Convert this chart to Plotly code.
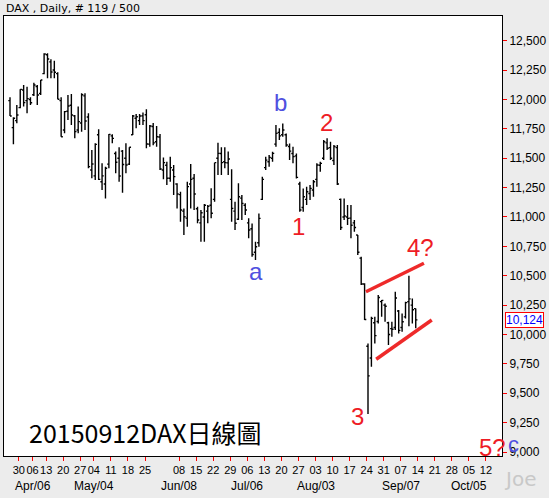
import plotly.graph_objects as go

# DAX daily bars, 25 Mar 2015 .. 11 Sep 2015 (trading-day index 0..119)
opens = [11990, 11760, 11820, 11930, 12080, 11990, 12000, 12040, 12110, 12050,
         12220, 12380, 12320, 12250, 12220, 11990, 11740, 11900, 11950, 11860,
         11740, 11800, 12030, 11850, 11400, 11350, 11700, 11300, 11280, 11450,
         11690, 11540, 11500, 11560, 11500, 11450, 11700, 11840, 11820, 11860,
         11870, 11620, 11770, 11640, 11680, 11400, 11440, 11330, 11400, 11280,
         11190, 11050, 10990, 11280, 11330, 11070, 10950, 11000, 11050, 11100,
         11150, 11500, 11540, 11470, 11460, 11150, 11050, 10980, 11160, 11100,
         10950, 10900, 10700, 10780, 11150, 11420, 11470, 11500, 11620, 11720,
         11700, 11700, 11600, 11540, 11520, 11280, 11080, 11150, 11200, 11230,
         11320, 11440, 11500, 11630, 11590, 11480, 11590, 11150, 11000, 11000,
         10990, 10950, 10846, 10650, 10430, 9900, 9800, 10100, 10110, 10280,
         10250, 10100, 10050, 10060, 10200, 10060, 10150, 10280, 10250, 10220]
highs = [12018, 11848, 11953, 12086, 12123, 12109, 12018, 12143, 12123, 12166,
         12393, 12393, 12341, 12330, 12231, 12018, 11902, 12038, 12046, 11868,
         11939, 12052, 12052, 11882, 11570, 11627, 11746, 11456, 11428, 11706,
         11703, 11556, 11593, 11570, 11627, 11593, 11868, 11876, 11876, 11888,
         11916, 11783, 11800, 11774, 11706, 11507, 11470, 11513, 11442, 11286,
         11215, 11073, 11300, 11451, 11366, 11087, 11059, 11110, 11102, 11244,
         11462, 11632, 11593, 11593, 11556, 11405, 11130, 11286, 11186, 11116,
         10988, 10945, 10789, 11030, 11342, 11513, 11527, 11555, 11782, 11754,
         11796, 11711, 11626, 11598, 11541, 11300, 11243, 11257, 11272, 11314,
         11456, 11470, 11655, 11669, 11640, 11612, 11612, 11158, 11158, 11101,
         11101, 10974, 10846, 10662, 10435, 9924, 10151, 10151, 10335, 10293,
         10264, 10109, 10109, 10364, 10208, 10179, 10279, 10500, 10307, 10222]
lows = [11859, 11618, 11797, 11924, 11939, 11882, 11953, 12029, 11953, 12038,
        12214, 12180, 12180, 12180, 12001, 11683, 11712, 11825, 11783, 11669,
        11712, 11726, 11740, 11414, 11329, 11315, 11315, 11230, 11158, 11414,
        11627, 11371, 11300, 11207, 11371, 11442, 11698, 11754, 11783, 11783,
        11584, 11598, 11610, 11598, 11400, 11320, 11272, 11300, 11187, 11073,
        10960, 10846, 10917, 11073, 11059, 10946, 10790, 10790, 10946, 10988,
        11130, 11357, 11357, 11414, 11357, 10960, 10889, 10974, 10974, 11016,
        10818, 10662, 10633, 10747, 11144, 11399, 11428, 11470, 11598, 11655,
        11683, 11598, 11484, 11456, 11328, 11045, 11045, 11101, 11144, 11172,
        11257, 11385, 11484, 11569, 11484, 11442, 11272, 10889, 10974, 10931,
        10818, 10874, 10676, 10421, 10123, 9323, 9726, 9924, 10094, 10151,
        10109, 9910, 9981, 10038, 10009, 10023, 10137, 10070, 10094, 10052]
closes = [11859, 11840, 11868, 12086, 11973, 12007, 11972, 12123, 12038, 12166,
          12387, 12344, 12234, 12231, 12001, 11683, 11896, 11944, 11868, 11726,
          11811, 12040, 11817, 11428, 11451, 11618, 11320, 11350, 11414, 11703,
          11669, 11465, 11348, 11447, 11442, 11593, 11859, 11853, 11859, 11820,
          11621, 11774, 11630, 11683, 11408, 11462, 11329, 11420, 11343, 11195,
          11059, 11002, 11258, 11320, 11195, 10974, 11036, 11100, 11090, 11031,
          11462, 11541, 11462, 11462, 11493, 11073, 10946, 11172, 11116, 11059,
          10889, 10680, 10747, 10988, 11320, 11484, 11507, 11541, 11711, 11690,
          11740, 11612, 11560, 11513, 11337, 11059, 11172, 11215, 11243, 11300,
          11442, 11456, 11640, 11585, 11500, 11600, 11280, 10910, 11008, 10988,
          10930, 10910, 10700, 10430, 10128, 9648, 10137, 9990, 10315, 10290,
          10240, 10000, 10045, 10310, 10035, 10108, 10271, 10303, 10210, 10124]

# weekly ticks: label and trading-day index of the week's first session
week_labels = ["30", "06", "13", "20", "27", "04", "11", "18", "25", "08", "15", "22", "29", "06",
               "13", "20", "27", "03", "10", "17", "24", "31", "07", "14", "21", "28", "05", "12"]
week_index = [3, 7, 11, 16, 21, 25, 30, 35, 40, 50, 55, 60, 65, 70,
              75, 80, 85, 90, 95, 100, 105, 110, 115, 120, 125, 130, 135, 140]
month_labels = ["Apr/06", "May/04", "Jun/08", "Jul/06", "Aug/03", "Sep/07", "Oct/05"]
month_index = [7, 25, 50, 70, 90, 115, 135]

y_ticks = list(range(9000, 12501, 250))
last_close = 10124

# wave labels (text, bar index, price, colour)
waves = [("b", 79.2, 11978, "#5050e0"), ("a", 72.2, 10532, "#5050e0"),
         ("1", 84.5, 10923, "#ee1c25"), ("2", 92.7, 11800, "#ee1c25"),
         ("3", 101.8, 9306, "#ee1c25"), ("4?", 120.3, 10736, "#ee1c25"),
         ("5?", 141.4, 9040, "#ee1c25")]
# triangle trend lines (bar index, price)
upper_line = [(104.4, 10364), (121.4, 10606)]
lower_line = [(107.4, 9789), (123.7, 10123)]

fig = go.Figure()
fig.add_trace(go.Ohlc(
    x=list(range(len(closes))), open=opens, high=highs, low=lows, close=closes,
    increasing=dict(line=dict(color="black", width=1.4)),
    decreasing=dict(line=dict(color="black", width=1.4)),
    tickwidth=0.5, showlegend=False, hoverinfo="skip"))

for pts in (upper_line, lower_line):
    fig.add_trace(go.Scatter(x=[p[0] for p in pts], y=[p[1] for p in pts], mode="lines",
                             line=dict(color="#ee2a2a", width=3.5), showlegend=False,
                             hoverinfo="skip"))

annotations = []
for txt, xi, yv, col in waves:
    annotations.append(dict(x=xi, y=yv, xref="x", yref="y", text=txt, showarrow=False,
                            font=dict(family="Liberation Sans", size=24, color=col)))
annotations.append(dict(x=1.038, y=0.026, xref="paper", yref="paper", text="c",
                        showarrow=False, yanchor="middle",
                        font=dict(family="Liberation Sans", size=22, color="#5050e0")))
for lab, idx in zip(month_labels, month_index):
    annotations.append(dict(x=idx - 0.4, y=-0.068, xref="x", yref="paper", text=lab,
                            showarrow=False, yanchor="middle",
                            font=dict(family="Liberation Sans", size=12, color="black")))
annotations.append(dict(x=0.0, y=1.018, xref="paper", yref="paper", xanchor="left",
                        yanchor="middle", text="DAX , Daily, # 119 / 500", showarrow=False,
                        font=dict(family="DejaVu Sans", size=11, color="black")))
annotations.append(dict(x=5.0, y=9170, xref="x", yref="y", xanchor="left",
                        text="20150912DAX日線圖", showarrow=False,
                        font=dict(family="Noto Sans CJK TC", size=25, color="black")))
annotations.append(dict(x=1.036, y=-0.052, xref="paper", yref="paper", text="Joe",
                        showarrow=False, xanchor="center", yanchor="middle",
                        font=dict(family="DejaVu Sans", size=20, color="#c8c8c8")))
annotations.append(dict(x=1.006, y=last_close, xref="paper", yref="y", xanchor="left",
                        text=f"{last_close:,}",
                        showarrow=False, bordercolor="red", borderwidth=1, borderpad=0,
                        bgcolor="white",
                        font=dict(family="Liberation Sans", size=12, color="blue")))

fig.update_layout(
    width=549, height=498,
    margin=dict(l=4, r=47, t=16, b=42, autoexpand=False),
    paper_bgcolor="#ececec", plot_bgcolor="white",
    annotations=annotations,
    xaxis=dict(range=[-1.76, 144.3], tickvals=[i - 0.4 for i in week_index],
               ticktext=week_labels, ticks="outside", ticklen=4, tickcolor="red",
               tickangle=0, automargin=False,
               showgrid=False, zeroline=False, showline=True, linecolor="black",
               linewidth=1, mirror=True, rangeslider=dict(visible=False),
               tickfont=dict(family="Liberation Sans", size=11, color="black")),
    yaxis=dict(range=[8966, 12710], side="right", tickvals=y_ticks,
               ticktext=[f"{v:,}" for v in y_ticks], ticks="outside", ticklen=4,
               tickcolor="red", showgrid=False, zeroline=False, showline=True,
               linecolor="black", linewidth=1, mirror=True, automargin=False,
               tickfont=dict(family="Liberation Sans", size=12, color="black")),
)

# the page body has an 8px default margin; drop it so the figure fills the window
fig.write_html("out.html", config={"displayModeBar": False},
               post_script="document.body.style.margin='0';")
